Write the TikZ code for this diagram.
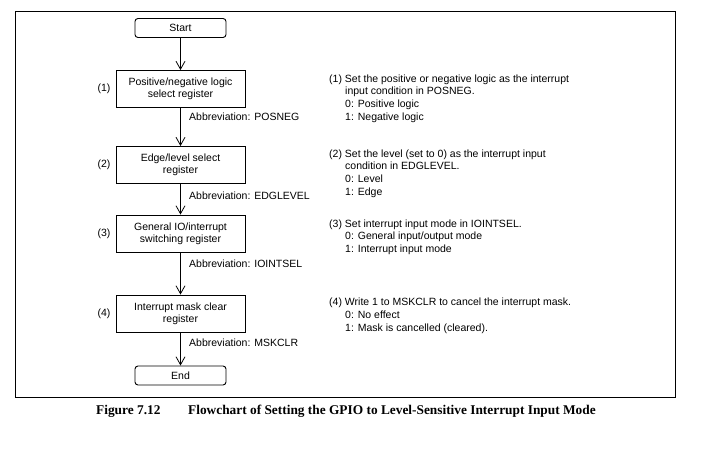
\documentclass[tikz,border=0pt]{standalone}
\usepackage{fontspec}
\setmainfont{Liberation Sans}
\newfontfamily\capfont{Liberation Serif}
\usetikzlibrary{arrows.meta}
\begin{document}
\begin{tikzpicture}[x=1pt,y=-1pt,
  every node/.style={font=\fontsize{10.5}{12.5}\selectfont, inner sep=0pt},
  proc/.style={draw, line width=0.9pt, minimum width=129pt, minimum height=37pt, align=center, font=\fontsize{10.5}{12.3}\selectfont},
  term/.style={draw, line width=0.9pt, rounded corners=3pt, minimum width=91pt, minimum height=19pt},
  flow/.style={line width=0.8pt, -{Straight Barb[length=8pt,width=9pt]}},
  abbr/.style={anchor=west},
  note/.style={anchor=north west, align=left, font=\fontsize{10.5}{12.6}\selectfont},
  capt/.style={anchor=west, font=\capfont\bfseries\fontsize{13.35}{15}\selectfont}]
\useasboundingbox (0,0) rectangle (702,455);
\draw[line width=0.9pt] (15,11) rectangle (675,397);

\node[term] (start) at (180.5,28) {Start};
\node[proc] (b1) at (180.5,89) {Positive/negative logic\\select register};
\node[proc] (b2) at (180.5,165) {Edge/level select\\register};
\node[proc] (b3) at (180.5,233.5) {General IO/interrupt\\switching register};
\node[proc] (b4) at (180.5,313.5) {Interrupt mask clear\\register};
\node[term] (end) at (180.5,375.5) {End};

\node (n1) at (104,89) {(1)};
\node (n2) at (104,165) {(2)};
\node (n3) at (104,233.5) {(3)};
\node (n4) at (104,313.5) {(4)};

\draw[flow] (start) -- (b1);
\draw[flow] (b1) -- (b2);
\draw[flow] (b2) -- (b3);
\draw[flow] (b3) -- (b4);
\draw[flow] (b4) -- (end);

\node[abbr] (a1) at (189,117) {Abbreviation: POSNEG};
\node[abbr] (a2) at (189,196) {Abbreviation: EDGLEVEL};
\node[abbr] (a3) at (189,264) {Abbreviation: IOINTSEL};
\node[abbr] (a4) at (189,343) {Abbreviation: MSKCLR};

\node[note] (t1) at (329,74.5) {(1) Set the positive or negative logic as the interrupt\\
\hspace*{16pt}input condition in POSNEG.\\
\hspace*{16pt}0: Positive logic\\
\hspace*{16pt}1: Negative logic};
\node[note] (t2) at (329,149.5) {(2) Set the level (set to 0) as the interrupt input\\
\hspace*{16pt}condition in EDGLEVEL.\\
\hspace*{16pt}0: Level\\
\hspace*{16pt}1: Edge};
\node[note] (t3) at (329,219.5) {(3) Set interrupt input mode in IOINTSEL.\\
\hspace*{16pt}0: General input/output mode\\
\hspace*{16pt}1: Interrupt input mode};
\node[note] (t4) at (329,298) {(4) Write 1 to MSKCLR to cancel the interrupt mask.\\
\hspace*{16pt}0: No effect\\
\hspace*{16pt}1: Mask is cancelled (cleared).};

\node[capt] (figno) at (96,411) {Figure 7.12};
\node[capt] (cap) at (188,411) {Flowchart of Setting the GPIO to Level-Sensitive Interrupt Input Mode};
\end{tikzpicture}
\end{document}
